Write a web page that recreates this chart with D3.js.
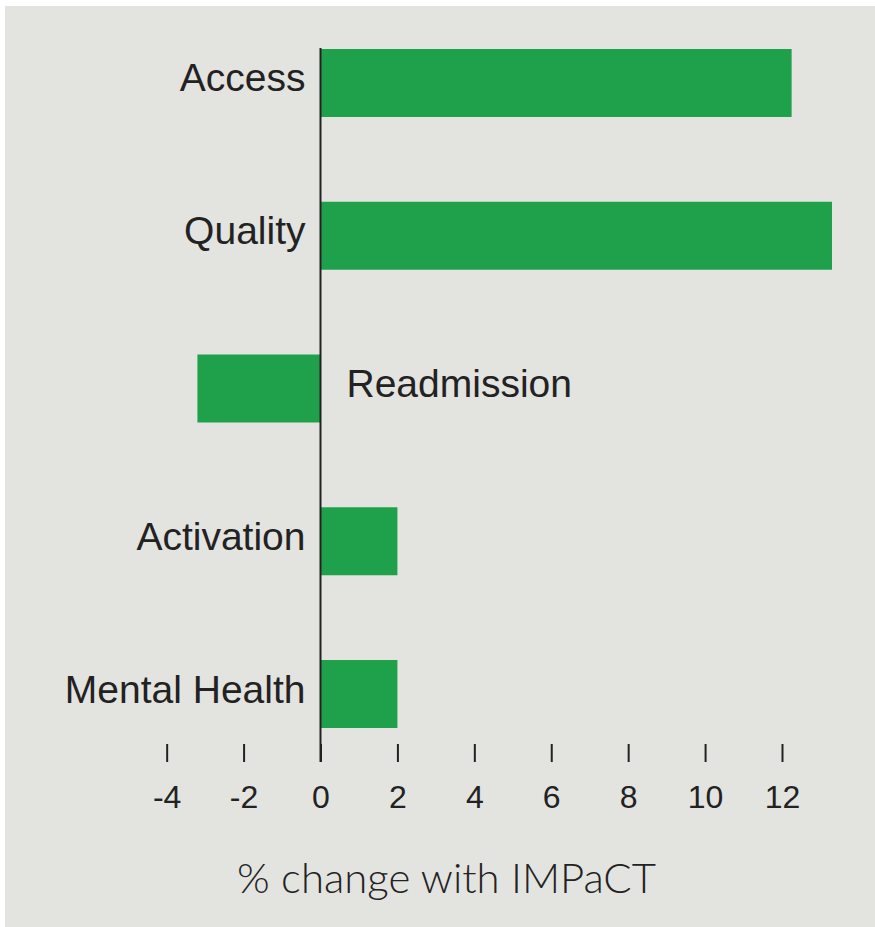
<!DOCTYPE html>
<html>
<head>
<meta charset="utf-8">
<script src="https://cdn.jsdelivr.net/npm/d3@7"></script>
<style>
  body { margin: 0; background: #fff; }
  svg { display: block; }
</style>
</head>
<body>
<div id="chart"></div>
<script>
// data
var categories = ["Access", "Quality", "Readmission", "Activation", "Mental Health"]
var values = [12.25, 13.3, -3.2, 2.0, 2.0]
var tickValues = [-4, -2, 0, 2, 4, 6, 8, 10, 12]
var axisTitle = "% change with IMPaCT"

var width = 875, height = 927

var svg = d3.select("#chart")
    .append("svg")
        .attr("width", width)
        .attr("height", height)

// grey panel, thin white margin top/left
svg.append("rect")
    .attr("x", 5)
    .attr("y", 6)
    .attr("width", width - 5)
    .attr("height", height - 6)
    .style("fill", "#e3e3e0")

var x = d3.scaleLinear()
    .domain([0, 12])
    .range([320.5, 782])

var y = d3.scaleBand()
    .domain(categories)
    .range([49, 728])
    .paddingInner(0.555)
    .paddingOuter(0)

// bars
svg.append("g")
    .selectAll("rect")
    .data(categories)
    .enter()
    .append("rect")
    .attr("x", function(d, i) { return x(Math.min(0, values[i])) })
    .attr("y", function(d) { return y(d) })
    .attr("width", function(d, i) { return Math.abs(x(values[i]) - x(0)) })
    .attr("height", y.bandwidth())
    .style("fill", "#1fa04a")

// category labels: left of axis, except negative bars go right
svg.append("g")
    .selectAll("text")
    .data(categories)
    .enter()
    .append("text")
    .attr("x", function(d, i) { return values[i] < 0 ? x(0) + 26 : x(0) - 15 })
    .attr("y", function(d) { return y(d) + y.bandwidth() / 2 + 8.5 })
    .attr("text-anchor", function(d, i) { return values[i] < 0 ? "start" : "end" })
    .style("font-family", "'Liberation Sans', Arial, sans-serif")
    .style("font-size", "39px")
    .style("fill", "#222")
    .text(function(d) { return d })

// zero line
svg.append("line")
    .attr("x1", x(0)).attr("x2", x(0))
    .attr("y1", 48).attr("y2", 762)
    .style("stroke", "#222")
    .style("stroke-width", 2)

// x axis: ticks floating below the bars, no domain line
var axis = svg.append("g")
    .attr("transform", "translate(0,744)")
    .call(d3.axisBottom(x)
        .tickValues(tickValues)
        .tickSize(18)
        .tickPadding(23)
        .tickFormat(function(d) { return d < 0 ? "-" + Math.abs(d) : d }))

axis.select(".domain").remove()
axis.selectAll(".tick line")
    .style("stroke", "#222")
    .style("stroke-width", 2)
axis.selectAll(".tick text")
    .attr("dy", null)
    .attr("y", 64)
    .style("font-family", "'Liberation Sans', Arial, sans-serif")
    .style("font-size", "32px")
    .style("fill", "#222")

// axis title, sized to span the same width as the original
var title = svg.append("text")
    .attr("x", 446.5)
    .attr("y", 893)
    .attr("text-anchor", "middle")
    .style("font-family", "Lato, 'Open Sans', sans-serif")
    .style("font-weight", 300)
    .style("font-size", "36px")
    .style("fill", "#222")
    .text(axisTitle)

var tw = title.node().getComputedTextLength()
title.style("font-size", (36 * 419 / tw) + "px")
</script>
</body>
</html>
